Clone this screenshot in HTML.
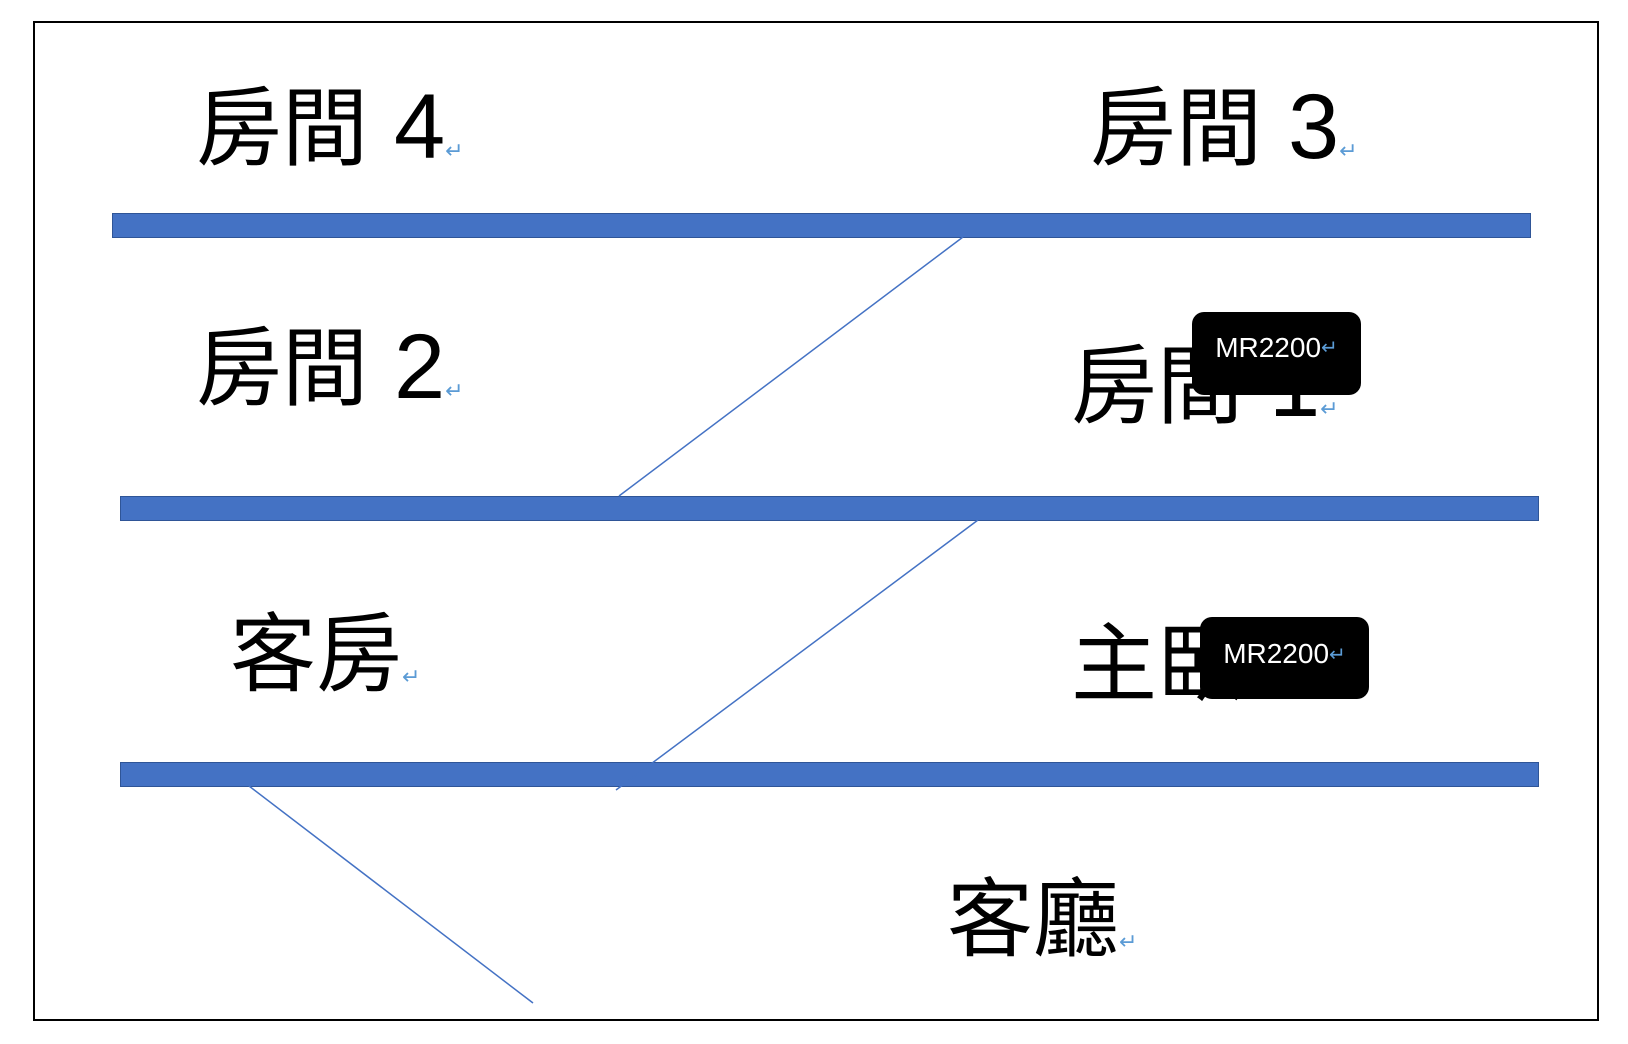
<!DOCTYPE html>
<html><head><meta charset="utf-8"><style>
html,body{margin:0;padding:0;background:#fff;}
body{width:1628px;height:1044px;position:relative;overflow:hidden;font-family:"Liberation Sans","Noto Sans CJK TC",sans-serif;}
.border{position:absolute;left:33px;top:21px;width:1566px;height:1000px;border:2px solid #000;box-sizing:border-box;}
.bar{position:absolute;background:#4472c4;border:1px solid #2f5597;box-sizing:border-box;}
.t{position:absolute;font-size:86px;line-height:1;color:#000;white-space:nowrap;font-family:"Noto Sans CJK TC",sans-serif;}
.d{font-family:"Liberation Sans",sans-serif;font-size:92px;margin-left:26px;}
.r{font-size:22px;color:#5b9bd5;}
.box{position:absolute;background:#000;border-radius:12px;color:#fff;font-size:26px;font-family:"Liberation Sans","Noto Sans CJK TC",sans-serif;display:flex;align-items:center;justify-content:center;}
.box .r{font-size:20px;}
</style></head><body>
<div class="border"></div>
<div class="t" style="left:196px;top:78px;">房間<span class="d">4</span><span class="r">↵</span></div>
<div class="t" style="left:1090px;top:78px;">房間<span class="d">3</span><span class="r">↵</span></div>
<div class="t" style="left:196px;top:318px;">房間<span class="d">2</span><span class="r">↵</span></div>
<div class="t" style="left:1071px;top:336px;">房間<span class="d">1</span><span class="r">↵</span></div>
<div class="t" style="left:230px;top:604px;">客房<span class="r">↵</span></div>
<div class="t" style="left:1071px;top:614px;">主臥室<span class="r">↵</span></div>
<div class="t" style="left:947px;top:869px;">客廳<span class="r">↵</span></div>
<div class="bar" style="left:112px;top:213px;width:1419px;height:25px;"></div>
<div class="bar" style="left:120px;top:496px;width:1419px;height:25px;"></div>
<div class="bar" style="left:120px;top:762px;width:1419px;height:25px;"></div>
<svg width="1628" height="1044" style="position:absolute;left:0;top:0;">
<line x1="963" y1="237" x2="619" y2="496" stroke="#4472c4" stroke-width="1.5"/>
<line x1="978" y1="520" x2="616" y2="790" stroke="#4472c4" stroke-width="1.5"/>
<line x1="249" y1="786" x2="533" y2="1003" stroke="#4472c4" stroke-width="1.5"/>
</svg>
<div class="box" style="left:1192px;top:312px;width:169px;height:83px;padding-bottom:12px;box-sizing:border-box;font-size:28px;">MR2200<span class="r">↵</span></div>
<div class="box" style="left:1200px;top:617px;width:169px;height:82px;padding-bottom:8px;box-sizing:border-box;font-size:28px;">MR2200<span class="r">↵</span></div>
</body></html>
